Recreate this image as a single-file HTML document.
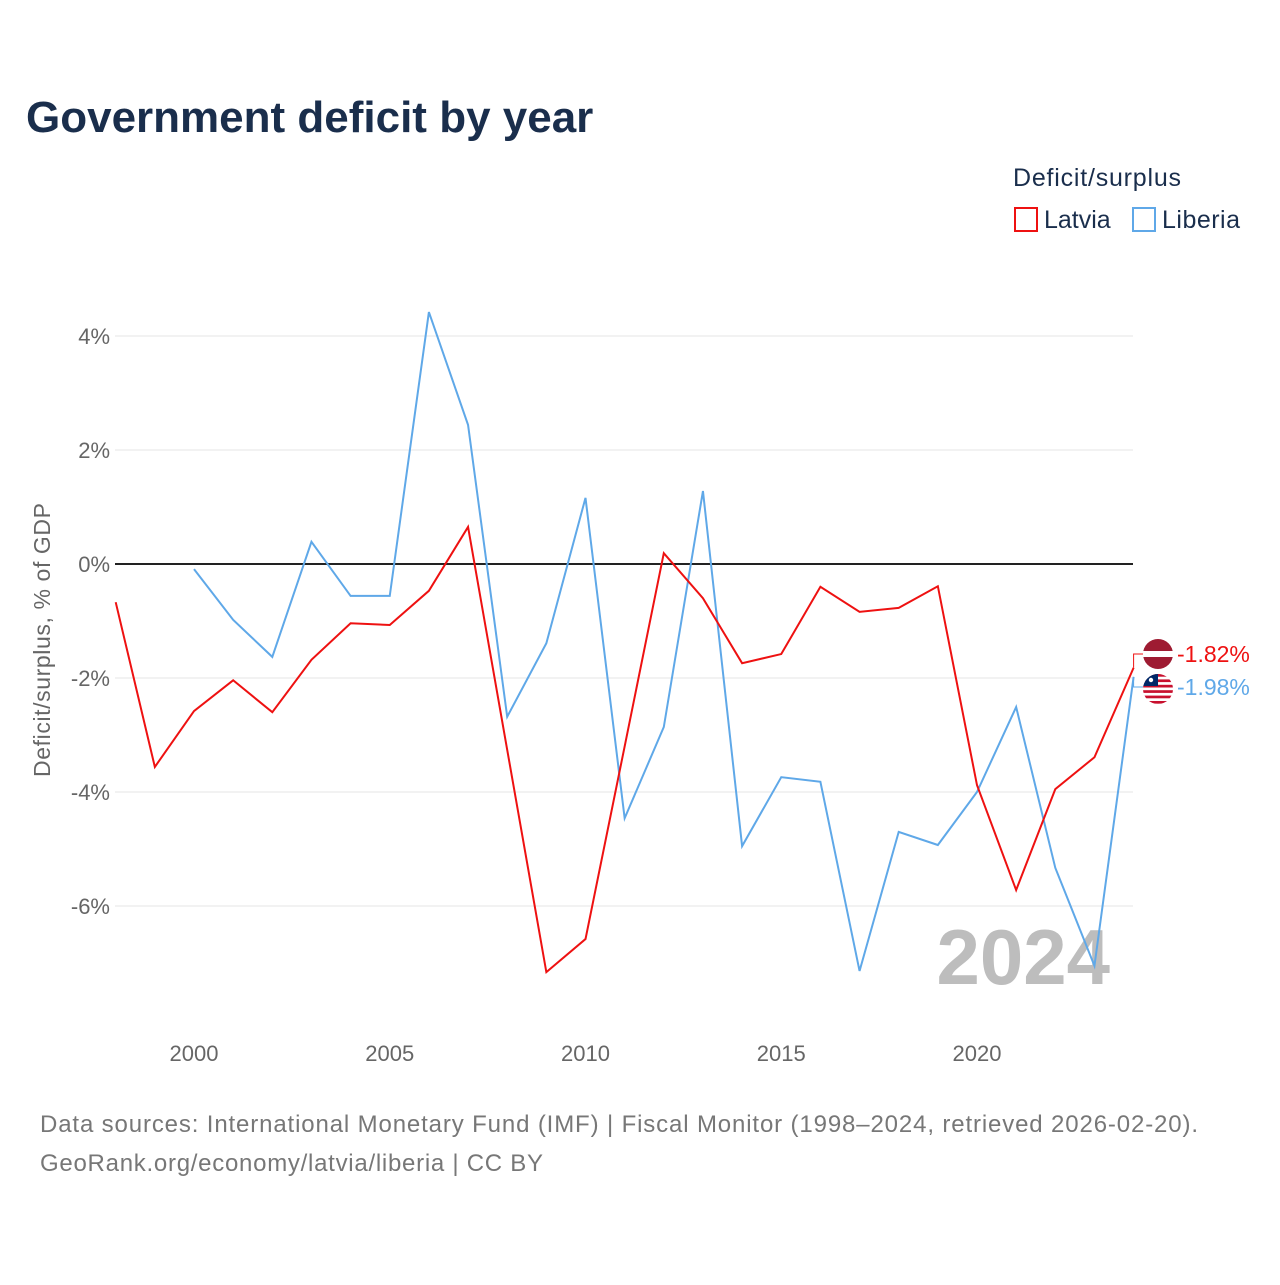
<!DOCTYPE html>
<html><head><meta charset="utf-8"><style>
body{margin:0;background:#fff;font-family:"Liberation Sans",sans-serif;}
</style></head><body>
<svg width="1280" height="1280" xmlns="http://www.w3.org/2000/svg" id="svg">
<defs><clipPath id="fc"><circle cx="1158" cy="689" r="15"/></clipPath></defs>
<text x="26" y="132" font-size="44" font-weight="bold" fill="#1a2e4c">Government deficit by year</text>
<text x="1013" y="186" font-size="25" fill="#1a2e4c" textLength="168">Deficit/surplus</text>
<g><rect x="1015" y="208" width="22" height="23" fill="none" stroke="#ee1111" stroke-width="2"/><text x="1044" y="228" font-size="25" fill="#1a2e4c">Latvia</text></g>
<g><rect x="1133" y="208" width="22" height="23" fill="none" stroke="#5fa8e8" stroke-width="2"/><text x="1162" y="228" font-size="25" fill="#1a2e4c" textLength="78">Liberia</text></g>
<text transform="translate(50,640) rotate(-90)" text-anchor="middle" font-size="23" fill="#666" textLength="274">Deficit/surplus, % of GDP</text>
<g id="grid"></g><g id="xt"></g>
<text x="1110" y="984" text-anchor="end" font-size="78" font-weight="bold" fill="#bdbdbd">2024</text>
<g id="lines"></g>
<text x="40" y="1132" font-size="24" fill="#777" textLength="1158">Data sources: International Monetary Fund (IMF) | Fiscal Monitor (1998–2024, retrieved 2026-02-20).</text>
<text x="40" y="1171" font-size="24" fill="#777" textLength="503">GeoRank.org/economy/latvia/liberia | CC BY</text>
</svg>
<script>
const years=[1998,1999,2000,2001,2002,2003,2004,2005,2006,2007,2008,2009,2010,2011,2012,2013,2014,2015,2016,2017,2018,2019,2020,2021,2022,2023,2024];
const latvia=[-0.67,-3.56,-2.58,-2.04,-2.6,-1.68,-1.04,-1.07,-0.47,0.65,-3.26,-7.16,-6.58,-3.2,0.19,-0.6,-1.74,-1.58,-0.4,-0.84,-0.77,-0.39,-3.88,-5.72,-3.95,-3.39,-1.82];
const liberia=[null,null,-0.09,-0.98,-1.63,0.39,-0.56,-0.56,4.42,2.44,-2.68,-1.39,1.16,-4.46,-2.86,1.28,-4.95,-3.74,-3.82,-7.14,-4.7,-4.93,-4.0,-2.51,-5.33,-7.05,-1.98];
const yTicks=[4,2,0,-2,-4,-6];
const xTicks=[2000,2005,2010,2015,2020];
const X=y=>194+(y-2000)*39.15, Y=v=>564-v*57;
const NS="http://www.w3.org/2000/svg";
function mk(t,a,p){const e=document.createElementNS(NS,t);for(const k in a)e.setAttribute(k,a[k]);p.appendChild(e);return e;}
const g=document.getElementById('grid');
yTicks.forEach(v=>{
 const l=mk('line',{x1:115,x2:1133,y1:Y(v),y2:Y(v),stroke:v===0?'#222':'#e6e6e6','stroke-width':v===0?2:1},g);
 
 
 const t=mk('text',{x:110,y:Y(v)+8,'text-anchor':'end','font-size':22,fill:'#666'},g);t.textContent=v+'%';
 
 
});
const xt=document.getElementById('xt');
xTicks.forEach(v=>{const t=mk('text',{x:X(v),y:1061,'text-anchor':'middle','font-size':22,fill:'#666'},xt);t.textContent=v;
 
 });
const lg=document.getElementById('lines');
function line(data,col,name){let d='';data.forEach((v,i)=>{if(v===null)return;d+=(d?'L':'M')+X(years[i])+','+Y(v);});
 const p=mk('path',{d:d,fill:'none',stroke:col,'stroke-width':2},lg);
 
 }
line(liberia,'#5fa8e8','liberia-line');
line(latvia,'#ee1111','latvia-line');
const lv=latvia[latvia.length-1], lb=liberia[liberia.length-1];
const x0=X(2024);
mk('path',{d:`M${x0},${Y(lv)}V654H1145`,fill:'none',stroke:'#ee1111','stroke-width':1},lg);
mk('path',{d:`M${x0},${Y(lb)}V687H1145`,fill:'none',stroke:'#5fa8e8','stroke-width':1},lg);
const f1=mk('g',{},lg);


mk('circle',{cx:1158,cy:654,r:15,fill:'#9e1b32'},f1);mk('rect',{x:1143,y:651,width:30,height:6,fill:'#fff'},f1);
const f2=mk('g',{'clip-path':'url(#fc)'},lg);


mk('rect',{x:1143,y:674,width:30,height:30,fill:'#fff'},f2);
for(let i=0;i<6;i++)mk('rect',{x:1143,y:674+i*5.4,width:30,height:2.7,fill:'#c8102e'},f2);
mk('rect',{x:1143,y:674,width:15,height:12,fill:'#002868'},f2);
mk('circle',{cx:1151,cy:680,r:2.2,fill:'#fff'},f2);
const t1=mk('text',{x:1177,y:662,'font-size':23,fill:'#ee1111'},lg);t1.textContent=lv.toFixed(2)+'%';


const t2=mk('text',{x:1177,y:695,'font-size':23,fill:'#5fa8e8'},lg);t2.textContent=lb.toFixed(2)+'%';


</script>
</body></html>
